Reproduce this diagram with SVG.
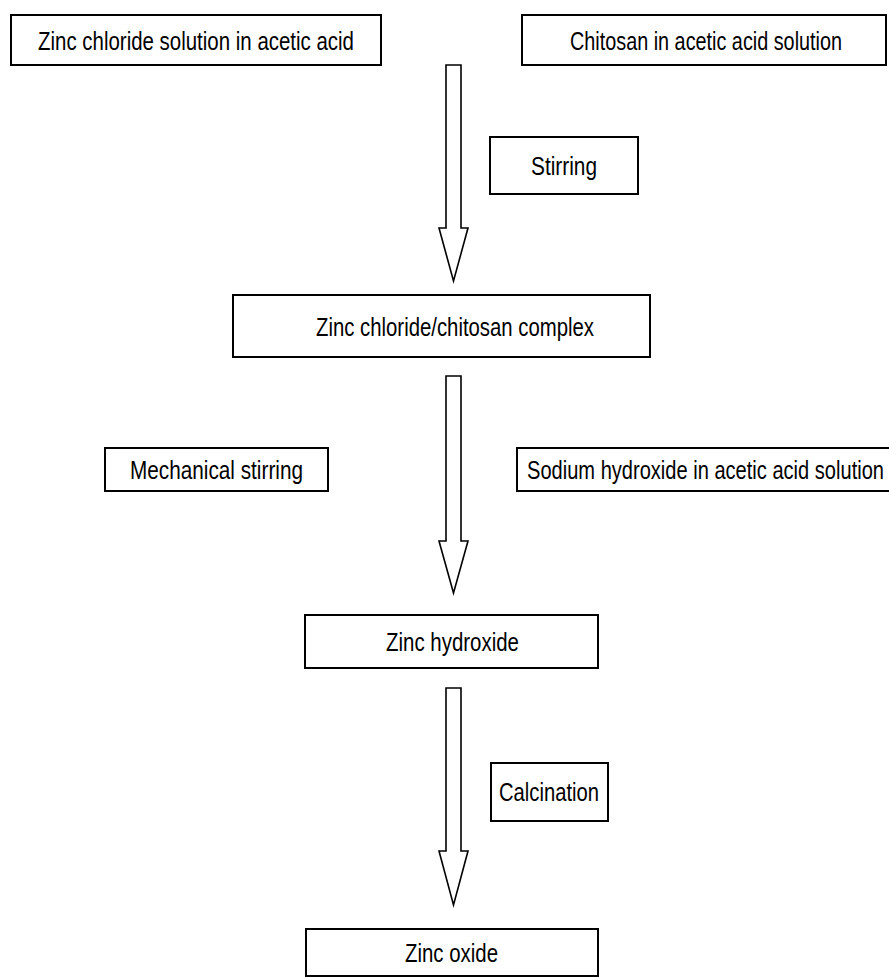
<svg xmlns="http://www.w3.org/2000/svg" width="889" height="978" viewBox="0 0 889 978">
<style>
.box{fill:#fff;stroke:#000;stroke-width:2}
.arr{fill:#fff;stroke:#000;stroke-width:1.6;stroke-linejoin:miter}
.t{font-family:"Liberation Sans",Arial,sans-serif;font-size:26px;fill:#000}
</style>
<rect width="889" height="978" fill="#fff"/>
<g id="connectors">
<polygon class="arr" points="446,65 461,65 461,228 468,228 453.5,281 439,228 446,228"/>
<polygon class="arr" points="446,376 461,376 461,541 468,541 453.5,593 439,541 446,541"/>
<polygon class="arr" points="446,688 461,688 461,851 468,851 453.5,905 439,851 446,851"/>
</g>
<g id="zinc-chloride-solution">
<rect class="box" x="11" y="15" width="370" height="50"/>
<text class="t" x="38" y="50" textLength="316" lengthAdjust="spacingAndGlyphs">Zinc chloride solution in acetic acid</text>
</g>
<g id="chitosan-solution">
<rect class="box" x="522" y="15" width="364" height="50"/>
<text class="t" x="570" y="50" textLength="272" lengthAdjust="spacingAndGlyphs">Chitosan in acetic acid solution</text>
</g>
<g id="stirring">
<rect class="box" x="490" y="137" width="148" height="57"/>
<text class="t" x="531" y="175" textLength="66" lengthAdjust="spacingAndGlyphs">Stirring</text>
</g>
<g id="complex">
<rect class="box" x="233" y="295" width="417" height="62"/>
<text class="t" x="316" y="336" textLength="278" lengthAdjust="spacingAndGlyphs">Zinc chloride/chitosan complex</text>
</g>
<g id="mechanical-stirring">
<rect class="box" x="105" y="448" width="223" height="43"/>
<text class="t" x="130" y="479" textLength="173" lengthAdjust="spacingAndGlyphs">Mechanical stirring</text>
</g>
<g id="sodium-hydroxide">
<rect class="box" x="517" y="448" width="380" height="43"/>
<text class="t" x="527" y="479" textLength="357" lengthAdjust="spacingAndGlyphs">Sodium hydroxide in acetic acid solution</text>
</g>
<g id="zinc-hydroxide">
<rect class="box" x="305" y="615" width="293" height="53"/>
<text class="t" x="386" y="651" textLength="133" lengthAdjust="spacingAndGlyphs">Zinc hydroxide</text>
</g>
<g id="calcination">
<rect class="box" x="491" y="763" width="117" height="58"/>
<text class="t" x="499" y="801" textLength="100" lengthAdjust="spacingAndGlyphs">Calcination</text>
</g>
<g id="zinc-oxide">
<rect class="box" x="306" y="929" width="292" height="47"/>
<text class="t" x="405" y="962" textLength="93" lengthAdjust="spacingAndGlyphs">Zinc oxide</text>
</g>
</svg>
